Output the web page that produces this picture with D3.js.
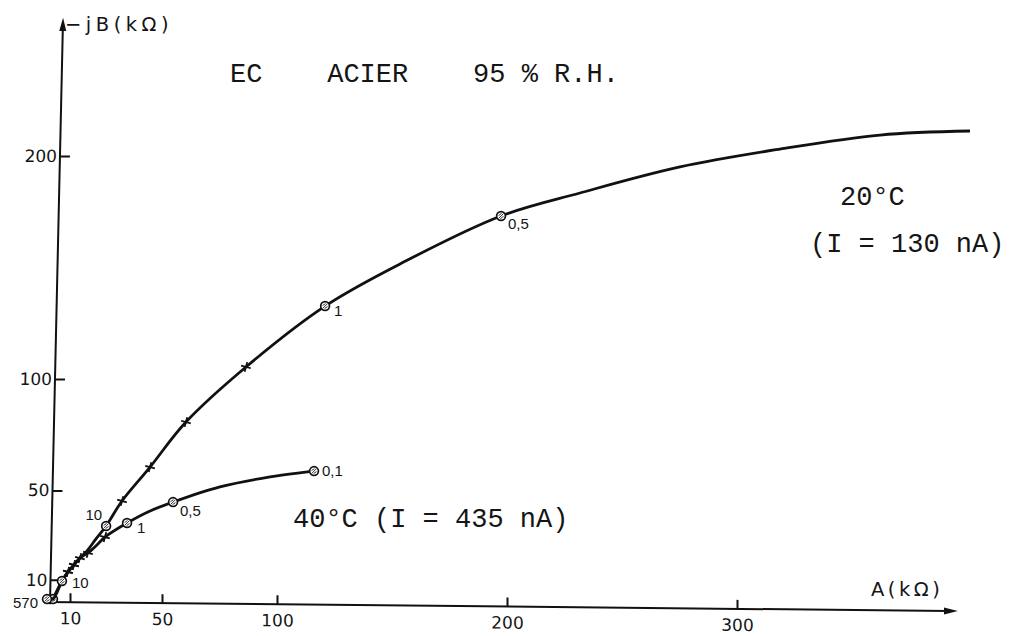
<!DOCTYPE html>
<meta charset="utf-8">

<style>
  body {
    margin: 0px;
    background: #fff;
  }

  svg {
    display: block;
  }

  text {
    fill: #151515;
  }

  .tick text {
    font-family: "DejaVu Sans", sans-serif;
    font-size: 17px;
  }

  .tick line, .axis-line {
    stroke: #111;
    stroke-width: 2;
  }

  .mono {
    font-family: "Liberation Mono", monospace;
    font-size: 27px;
    white-space: pre;
  }

  .unit {
    font-family: "DejaVu Sans", sans-serif;
    font-size: 19.5px;
    letter-spacing: 4.5px;
  }

  .freq {
    font-family: "Liberation Sans", sans-serif;
    font-size: 15px;
  }

  .curve {
    fill: none;
    stroke: #111;
    stroke-width: 2.8;
  }
</style>

<script src="https://cdn.jsdelivr.net/npm/d3@7"></script>

<body>
  <svg id="chart"></svg>
</body>

<script>
const width = 1012;
const height = 636;

// tick values on both axes (kOhm)
const tickA = [10, 50, 100, 200, 300];
const tickB = [10, 50, 100, 200];

// 20 C curve (I = 130 nA): A, -jB, marker, frequency label
const a20 = [2.6, 6.5, 9.1, 11.7, 14.3, 17.4, 21.3, 25.7, 32.6, 44.8, 60.4, 86.5, 120.9, 153.5, 197.4, 231.7, 275.2, 318.7, 362.2, 401.3];
const b20 = [1.3, 9.4, 13.5, 16.6, 19.7, 22.9, 28.3, 34.1, 45.3, 60.5, 80.7, 105.4, 132.7, 151.6, 173.1, 183.4, 195.1, 203.1, 209.4, 211.2];
const mark20 = ['o', '', '+', '+', '', '', '', 'o', '+', '+', '+', '+', 'o', '', 'o', '', '', '', '', ''];
const freq20 = ['', '', '', '', '', '', '', '10', '', '', '', '', '1', '', '0,5', '', '', '', '', ''];

// 40 C curve (I = 435 nA)
const a40 = [0, 2.6, 6.5, 9.1, 11.7, 14.3, 17.8, 21.7, 25.2, 34.8, 44.8, 54.8, 75.2, 97.0, 116.1];
const b40 = [1.3, 1.3, 9.4, 13.5, 16.6, 19.7, 22.0, 25.6, 29.1, 35.4, 40.8, 44.8, 51.6, 56.1, 58.7];
const mark40 = ['o', '', 'o', '+', '+', '+', '+', '', '+', 'o', '', 'o', '', '', 'o'];
const freq40 = ['570', '', '10', '', '', '', '', '', '', '1', '', '0,5', '', '', '0,1'];

// where each frequency label sits relative to its point
const place = {
  '20:10': [-4, -6, 'end'],
  '20:1': [9, 10, 'start'],
  '20:0,5': [7, 13, 'start'],
  '40:570': [-9, 9, 'end'],
  '40:10': [10, 7, 'start'],
  '40:1': [10, 10, 'start'],
  '40:0,5': [7, 14, 'start'],
  '40:0,1': [8, 5, 'start']
};

const x = d3.scaleLinear().domain([0, 400]).range([47, 967]);
const y = d3.scaleLinear().domain([0, 260]).range([602, 22.2]);

const svg = d3.select('#chart')
    .attr('width', width)
    .attr('height', height);

svg.append('rect')
    .attr('width', width)
    .attr('height', height)
    .attr('fill', '#fff');

// hand drawn axes lean a little, so skew them around the origin
const yAxisG = svg.append('g')
    .attr('transform', `translate(${x(0) + 3},${y(0)}) skewX(-1.28) translate(0,${-y(0)})`);

yAxisG.call(d3.axisLeft(y).tickValues(tickB).tickSize(-10).tickPadding(3))
    .call(function(g) { g.select('.domain').remove(); });

yAxisG.append('line')
    .attr('class', 'axis-line')
    .attr('y1', y(-1))
    .attr('y2', y(259));

yAxisG.append('path')
    .attr('d', `M0,${y(262)}L-3.5,${y(256)}L3.5,${y(256)}Z`)
    .attr('fill', '#111');

const xAxisG = svg.append('g')
    .attr('transform', `translate(${x(0)},${y(0)}) skewY(0.57) translate(${-x(0)},0)`);

xAxisG.call(d3.axisBottom(x).tickValues(tickA).tickSize(-9).tickPadding(10))
    .call(function(g) { g.select('.domain').remove(); });

xAxisG.append('line')
    .attr('class', 'axis-line')
    .attr('x1', x(-1))
    .attr('x2', x(392));

xAxisG.append('path')
    .attr('d', `M${x(396)},0L${x(390)},-3.5L${x(390)},3.5Z`)
    .attr('fill', '#111');

svg.selectAll('.tick text').attr('fill', '#151515');

// axis names
svg.append('text')
    .attr('class', 'unit')
    .attr('x', 65)
    .attr('y', 31)
    .text('−jB(kΩ)');

svg.append('text')
    .attr('class', 'unit')
    .style('letter-spacing', '3.5px')
    .attr('x', 871)
    .attr('y', 596)
    .text('A(kΩ)');

// typed captions
svg.append('text').attr('class', 'mono').attr('x', 230).attr('y', 82).text('EC    ACIER    95 % R.H.');
svg.append('text').attr('class', 'mono').attr('x', 840).attr('y', 205).text('20°C');
svg.append('text').attr('class', 'mono').attr('x', 810).attr('y', 252).text('(I = 130 nA)');
svg.append('text').attr('class', 'mono').attr('x', 293).attr('y', 527).text('40°C (I = 435 nA)');

const line = d3.line()
    .x(function(d) { return x(d.a); })
    .y(function(d) { return y(d.b); })
    .curve(d3.curveCatmullRom.alpha(0.5));

const curves = [
  { key: '20', a: a20, b: b20, mark: mark20, freq: freq20 },
  { key: '40', a: a40, b: b40, mark: mark40, freq: freq40 }
];

curves.forEach(function(c) {
  const pts = c.a.map(function(a, i) {
    return { a: a, b: c.b[i], mark: c.mark[i], freq: c.freq[i] };
  });

  svg.append('path')
      .attr('class', 'curve')
      .attr('d', line(pts));

  const g = svg.append('g');

  // crosses
  g.selectAll('.cross')
      .data(pts.filter(function(d) { return d.mark === '+'; }))
    .enter().append('path')
      .attr('class', 'cross')
      .attr('transform', function(d) { return `translate(${x(d.a)},${y(d.b)}) rotate(15)`; })
      .attr('d', 'M-5,0H5M0,-5V5')
      .attr('stroke', '#111')
      .attr('stroke-width', 1.8);

  // circled points
  const circ = g.selectAll('.ring')
      .data(pts.filter(function(d) { return d.mark === 'o'; }))
    .enter().append('g')
      .attr('class', 'ring')
      .attr('transform', function(d) { return `translate(${x(d.a)},${y(d.b)})`; });

  circ.append('circle')
      .attr('r', 4.4)
      .attr('fill', '#fff')
      .attr('stroke', '#111')
      .attr('stroke-width', 1.7);

  circ.append('path')
      .attr('d', 'M-2.5,2.5L2.5,-2.5M-2.5,-0.5L0.5,-2.5M-0.5,2.5L2.5,0.5')
      .attr('stroke', '#333')
      .attr('stroke-width', 1);

  // frequency labels
  g.selectAll('.freq')
      .data(pts.filter(function(d) { return d.freq; }))
    .enter().append('text')
      .attr('class', 'freq')
      .attr('x', function(d) { return x(d.a) + place[c.key + ':' + d.freq][0]; })
      .attr('y', function(d) { return y(d.b) + place[c.key + ':' + d.freq][1]; })
      .attr('text-anchor', function(d) { return place[c.key + ':' + d.freq][2]; })
      .text(function(d) { return d.freq; });
});
</script>
